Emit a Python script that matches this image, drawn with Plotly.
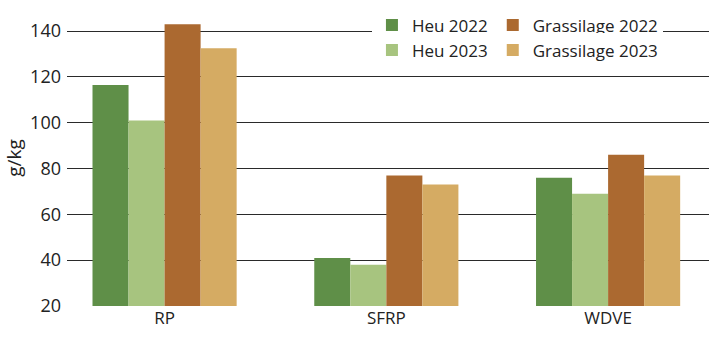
import plotly.graph_objects as go

categories = ["RP", "SFRP", "WDVE"]
heu_2022 = [116.5, 41, 76]
heu_2023 = [101, 38, 69]
gras_2022 = [143, 77, 86]
gras_2023 = [132.5, 73, 77]
y_ticks = [20, 40, 60, 80, 100, 120, 140]

series = [
    ("Heu 2022", heu_2022, "#5f8f48", "legend", 1),
    ("Heu 2023", heu_2023, "#a7c47f", "legend2", 3),
    ("Grassilage 2022", gras_2022, "#ab6930", "legend", 2),
    ("Grassilage 2023", gras_2023, "#d5ab63", "legend2", 4),
]

FONT = "Open Sans"
fig = go.Figure()
for name, vals, color, leg, rank in series:
    fig.add_trace(go.Bar(
        x=categories, y=vals, name=name,
        marker=dict(color=color, line=dict(width=0)),
        legend=leg, legendrank=rank,
    ))

legend_common = dict(
    orientation="h", xanchor="left", yanchor="middle",
    font=dict(family=FONT, size=17, color="#222"),
    bgcolor="white", borderwidth=0,
    itemwidth=30, tracegroupgap=0,
)

fig.update_layout(
    width=709, height=339,
    margin=dict(l=67, r=0, t=10, b=33),
    paper_bgcolor="white", plot_bgcolor="white",
    barmode="group", bargap=0.35, bargroupgap=0,
    font=dict(family=FONT, size=17, color="#222"),
    showlegend=True,
    legend=dict(x=0.475, y=0.948, **legend_common),
    legend2=dict(x=0.475, y=0.863, **legend_common),
    xaxis=dict(
        range=[-0.44, 2.455], showgrid=False, zeroline=False,
        showline=False, ticks="",
        tickfont=dict(family=FONT, size=17, color="#222"),
    ),
    yaxis=dict(
        range=[20, 149.2], tickvals=y_ticks,
        showgrid=True, gridcolor="#2a2a2a", gridwidth=1.2,
        zeroline=False, showline=False, ticks="",
        ticklabelstandoff=5,
        tickfont=dict(family=FONT, size=18, color="#222"),
        title=dict(text="g/kg", font=dict(family=FONT, size=19, color="#222"), standoff=3),
    ),
)

fig.write_html("out.html")
